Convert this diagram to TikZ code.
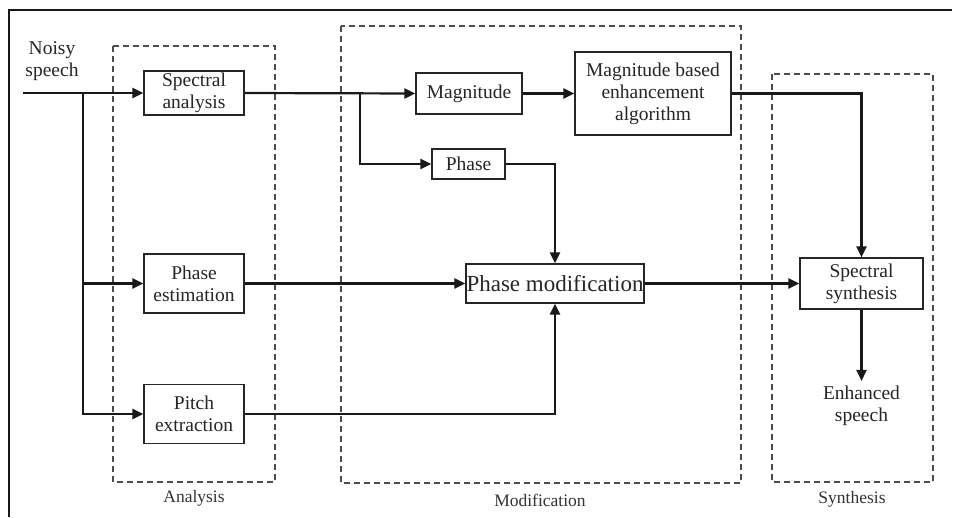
\documentclass[tikz,border=0pt]{standalone}
\usepackage{fontspec}
\setmainfont{Liberation Serif}
\usetikzlibrary{arrows.meta}
\begin{document}
\begin{tikzpicture}[x=1pt,y=-1pt,
  block/.style={draw=black!85,line width=1.2pt,inner sep=0pt,align=center,
    font=\fontsize{19.5}{22}\selectfont,text=black!85},
  plain/.style={inner sep=0pt,align=center,font=\fontsize{19.5}{22}\selectfont,text=black!85},
  grouplabel/.style={inner sep=0pt,font=\fontsize{17.5}{19}\selectfont,text=black!80},
  group/.style={draw=black!70,line width=1.2pt,dash pattern=on 6pt off 4pt},
  flow/.style={draw=black!90,line width=2.2pt,-{Triangle[length=11pt,width=10pt]}}]
\useasboundingbox (0,0) rectangle (955,517);
\fill[white] (0,0) rectangle (955,517);

% outer frame
\draw[black!90,line width=1.2pt] (9,517) -- (9,10) -- (952,10);

% stage groups
\draw[group] (113,46) rectangle (275,482);
\draw[group] (341,26) rectangle (741,483);
\draw[group] (772,74) rectangle (933,482);
\node[grouplabel] (lblA) at (194,498) {Analysis};
\node[grouplabel] (lblM) at (540,500) {Modification};
\node[grouplabel] (lblS) at (852,499) {Synthesis};

% blocks
\node[plain] (noisy) at (52,61) {Noisy\\speech};
\node[block,minimum width=100pt,minimum height=44pt] (sa) at (194,93) {Spectral\\analysis};
\node[block,minimum width=100pt,minimum height=59pt] (pe) at (194,283.5) {Phase\\estimation};
\node[block,minimum width=100pt,minimum height=59pt] (px) at (194,414) {Pitch\\extraction};
\node[block,minimum width=106pt,minimum height=41pt] (mag) at (469,93.5) {Magnitude};
\node[block,minimum width=73pt,minimum height=30pt] (ph) at (468.5,164) {Phase};
\node[block,minimum width=156pt,minimum height=83pt] (mea) at (653,93.5) {Magnitude based\\enhancement\\algorithm};
\node[block,minimum width=178pt,minimum height=39pt,font=\fontsize{23}{26}\selectfont] (pm) at (555,283.5) {Phase modification};
\node[block,minimum width=123pt,minimum height=51pt] (ss) at (861.5,283.5) {Spectral\\synthesis};
\node[plain] (es) at (861.5,406) {Enhanced\\speech};

% junctions
\coordinate (in) at (23,93);
\coordinate (split) at (83,93);
\coordinate (fork) at (360,93);

% connectors
\draw[flow] (in) -- (sa.west);
\draw[flow] (split) |- (pe.west);
\draw[flow] (split) |- (px.west);
\draw[flow] (sa.east) -- (mag.west);
\draw[flow] (fork) |- (ph.west);
\draw[flow] (mag.east) -- (mea.west);
\draw[flow] (ph.east) -| (pm.north);
\draw[flow] (pe.east) -- (pm.west);
\draw[flow] (px.east) -| (pm.south);
\draw[flow] (pm.east) -- (ss.west);
\draw[flow] (mea.east) -| (ss.north);
\draw[flow] (ss.south) -- ([yshift=5pt]es.north);
\end{tikzpicture}
\end{document}
